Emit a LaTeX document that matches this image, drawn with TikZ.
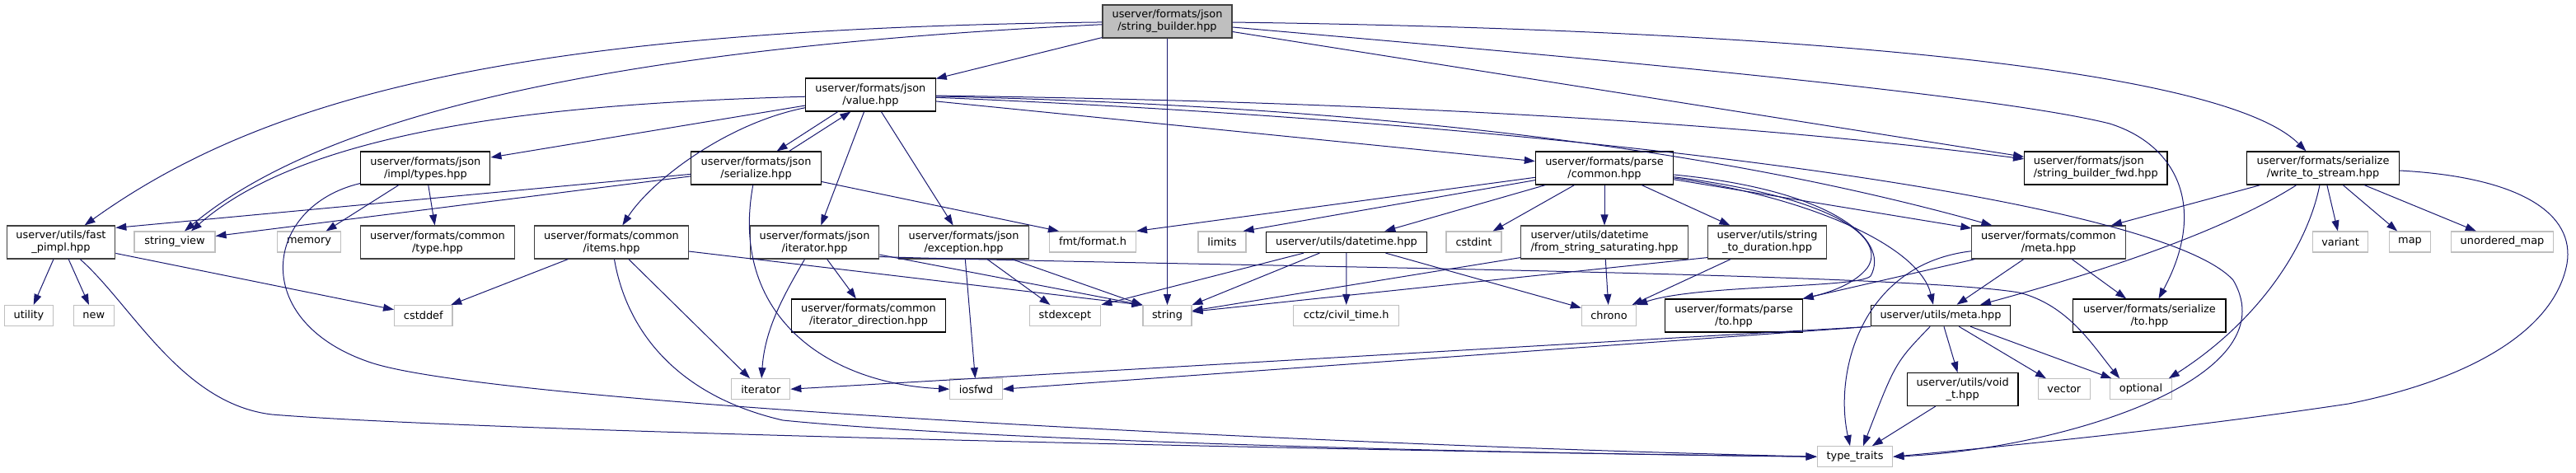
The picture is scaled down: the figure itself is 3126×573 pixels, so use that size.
\documentclass[tikz,border=0pt]{standalone}
\usepackage{fontspec}
\setmainfont{DejaVu Sans}
\usetikzlibrary{arrows.meta,calc}
\definecolor{edgeblue}{HTML}{191970}
\definecolor{extgrey}{HTML}{BFBFBF}
\definecolor{darkgrey}{HTML}{404040}
\begin{document}
\begin{tikzpicture}[x=1pt,y=-1pt,
  font=\fontsize{12.9}{15}\selectfont,
  box/.style={draw=black,line width=1.1pt,fill=white,inner sep=0pt,align=center,minimum height=40},
  gbox/.style={box,draw=darkgrey},
  ext/.style={box,draw=extgrey,minimum height=25},
  one/.style={box,minimum height=25.5},
  rootbox/.style={box,draw=darkgrey,fill=extgrey},
  lnk/.style={draw=edgeblue,line width=1pt,-{Triangle[length=13pt,width=9pt]}}]
\useasboundingbox (0,0) rectangle (3126,573);
% row 0
\node[rootbox,minimum width=157] (root) at (1416.5,26) {userver/formats/json\\/string\_builder.hpp};
% row 1
\node[box,minimum width=157.6] (value) at (1056.4,115) {userver/formats/json\\/value.hpp};
% row 2
\node[box,minimum width=157.6] (serialize) at (917.6,204) {userver/formats/json\\/serialize.hpp};
\node[box,minimum width=157] (types) at (516.4,204) {userver/formats/json\\/impl/types.hpp};
\node[box,minimum width=167.3] (pc) at (1947,204) {userver/formats/parse\\/common.hpp};
\node[box,minimum width=173.4,align=left] (sbfwd) at (2543.3,204) {userver/formats/json\\/string\_builder\_fwd.hpp};
\node[box,minimum width=185.2] (wts) at (2819,204) {userver/formats/serialize\\/write\_to\_stream.hpp};
% row 3
\node[gbox,minimum width=131.6] (fp) at (74,294) {userver/utils/fast\\\_pimpl.hpp};
\node[ext,minimum width=98] (sv) at (212,293.5) {string\_view};
\node[ext,minimum width=76.6] (memory) at (375,293.5) {memory};
\node[gbox,minimum width=186.7] (ctype) at (531,294) {userver/formats/common\\/type.hpp};
\node[gbox,minimum width=186.5] (items) at (742,294) {userver/formats/common\\/items.hpp};
\node[gbox,minimum width=156.6] (jiter) at (988.5,294) {userver/formats/json\\/iterator.hpp};
\node[gbox,minimum width=157.7] (jexc) at (1169.6,294) {userver/formats/json\\/exception.hpp};
\node[ext,minimum width=105] (fmt) at (1326,293.5) {fmt/format.h};
\node[ext,minimum width=58] (limits) at (1483,293.5) {limits};
\node[one,minimum width=195] (dt) at (1634,293.8) {userver/utils/datetime.hpp};
\node[ext,minimum width=67] (cstdint) at (1788.5,293.5) {cstdint};
\node[gbox,minimum width=202.5,align=left] (fss) at (1947,294) {userver/utils/datetime\\/from\_string\_saturating.hpp};
\node[gbox,minimum width=144] (s2d) at (2144.5,294) {userver/utils/string\\\_to\_duration.hpp};
\node[gbox,minimum width=186.2] (cmeta) at (2486,294) {userver/formats/common\\/meta.hpp};
\node[ext,minimum width=67.4] (variant) at (2840,293.5) {variant};
\node[ext,minimum width=50] (map) at (2924.5,293.5) {map};
\node[ext,minimum width=124] (umap) at (3036.5,293.5) {unordered\_map};
% row 4
\node[ext,minimum width=59.8] (utility) at (35,383) {utility};
\node[ext,minimum width=49] (new) at (113.8,383) {new};
\node[ext,minimum width=70.4] (cstddef) at (513.8,383) {cstddef};
\node[box,minimum width=186.3] (iterdir) at (1054,383) {userver/formats/common\\/iterator\_direction.hpp};
\node[ext,minimum width=86.7] (stdexcept) at (1292.4,383) {stdexcept};
\node[ext,minimum width=59] (string) at (1416.5,383.2) {string};
\node[ext,minimum width=127.7] (cctz) at (1633.7,383) {cctz/civil\_time.h};
\node[ext,minimum width=66.3] (chrono) at (1952.5,383) {chrono};
\node[box,minimum width=166.2] (pto) at (2104,383) {userver/formats/parse\\/to.hpp};
\node[one,minimum width=169] (umeta) at (2355,383) {userver/utils/meta.hpp};
\node[box,minimum width=185.2] (sto) at (2608.4,383) {userver/formats/serialize\\/to.hpp};
% row 5
\node[ext,minimum width=71] (iterator) at (923.3,472.2) {iterator};
\node[ext,minimum width=63.7] (iosfwd) at (1184.5,472.2) {iosfwd};
\node[box,minimum width=134.7] (voidt) at (2381.6,472.5) {userver/utils/void\\\_t.hpp};
\node[ext,minimum width=62.8] (vector) at (2504.8,472.3) {vector};
\node[ext,minimum width=74.5] (optional) at (2598,472.3) {optional};
% row 6
\node[ext,minimum width=91.7] (tt) at (2251,554.2) {type\_traits};

% ---- edges from root
\draw[lnk] (root) -- (value);
\draw[lnk] (root) .. controls (650,35) and (330,110) .. (fp);
\draw[lnk] (root) .. controls (700,60) and (380,150) .. ($(sv.north)+(12,0)$);
\draw[lnk] (root) -- (string);
\draw[lnk] (root) -- (sbfwd);
\draw[lnk] (root) .. controls (2100,35) and (2690,75) .. (wts);
\draw[lnk] (root) .. controls (1800,60) and (2400,110) .. (2560,150) .. controls (2640,175) and (2680,250) .. (sto);
% ---- value
\draw[lnk] ($(value.south)+(-39.6,0)$) -- ($(serialize.north)+(25,0)$);
\draw[lnk] ($(serialize.north)+(40,0)$) -- ($(value.south)+(-24,0)$);
\draw[lnk] (value) .. controls (700,125) and (380,150) .. ($(sv.north)+(20,0)$);
\draw[lnk] (value) -- (types);
\draw[lnk] (value) .. controls (880,150) and (790,220) .. (items);
\draw[lnk] (value) -- (jiter);
\draw[lnk] (value) -- (jexc);
\draw[lnk] (value) -- (pc);
\draw[lnk] (value) .. controls (1800,125) and (2200,160) .. (sbfwd);
\draw[lnk] (value) .. controls (1700,130) and (2100,185) .. ($(cmeta.north west)+(25,0)$);
\draw[lnk] (value) .. controls (1900,150) and (2620,240) .. (2710,340) .. controls (2780,460) and (2500,545) .. (tt.east);
% ---- serialize
\draw[lnk] (serialize) -- ($(fp.north east)+(0,3)$);
\draw[lnk] (serialize) -- ($(sv.east)+(0,-7)$);
\draw[lnk] (serialize) -- ($(fmt.north west)+(12,0)$);
\draw[lnk] (serialize) .. controls (885,380) and (1000,465) .. (iosfwd.west);
% ---- types
\draw[lnk] (types) -- (memory);
\draw[lnk] (types) -- (ctype);
\draw[lnk] (types) .. controls (320,250) and (300,390) .. (450,440) .. controls (600,490) and (1600,540) .. (tt.west);
% ---- fast_pimpl
\draw[lnk] (fp) -- (utility);
\draw[lnk] (fp) -- (new);
\draw[lnk] (fp) -- (cstddef);
\draw[lnk] (fp) .. controls (160,370) and (220,490) .. (330,503) .. controls (600,525) and (1700,548) .. (tt.west);
% ---- items
\draw[lnk] (items) -- (cstddef);
\draw[lnk] (items) -- (iterator);
\draw[lnk] (items) .. controls (760,400) and (820,480) .. (950,510) .. controls (1200,535) and (1800,550) .. (tt.west);
\draw[lnk] (items) -- (string.north west);
% ---- json iterator
\draw[lnk] (jiter) .. controls (950,360) and (928,400) .. (iterator);
\draw[lnk] (jiter) -- (iterdir);
\draw[lnk] (jiter) -- (string.north west);
\draw[lnk] ($(jiter.south east)+(0,-3)$) .. controls (1400,322) and (2300,330) .. (2450,355) .. controls (2510,370) and (2540,420) .. ($(optional.north west)+(12,0)$);
% ---- json exception
\draw[lnk] (jexc) -- (stdexcept);
\draw[lnk] (jexc) -- (iosfwd);
\draw[lnk] (jexc) -- (string.north west);
% ---- parse/common
\draw[lnk] (pc) -- (fmt.north east);
\draw[lnk] (pc) -- ($(limits.north east)+(-4,0)$);
\draw[lnk] (pc) -- (dt);
\draw[lnk] (pc) -- (cstdint);
\draw[lnk] (pc) -- (fss);
\draw[lnk] (pc) -- (s2d);
\draw[lnk] (pc) -- ($(cmeta.west)+(0,-17)$);
\draw[lnk] (pc) .. controls (2200,240) and (2330,300) .. ($(umeta.north west)+(76,0)$);
\draw[lnk] (pc) .. controls (2230,240) and (2290,290) .. (2266,325) .. controls (2250,345) and (2220,355) .. (pto.north east);
\draw[lnk] (pc) .. controls (2220,230) and (2295,290) .. (2270,335) .. controls (2255,350) and (2060,345) .. (chrono.north east);
% ---- datetime
\draw[lnk] (dt) -- (stdexcept.north east);
\draw[lnk] (dt) -- (string.north east);
\draw[lnk] (dt) -- (cctz);
\draw[lnk] (dt) -- (chrono);
% ---- from_string_saturating, string_to_duration
\draw[lnk] (fss) -- (chrono);
\draw[lnk] ($(fss.south west)+(0,-2)$) -- ($(string.east)+(0,-6)$);
\draw[lnk] (s2d) -- (chrono);
\draw[lnk] ($(s2d.south west)+(0,-2)$) -- ($(string.east)+(0,-5)$);
% ---- common/meta
\draw[lnk] (cmeta) -- (umeta);
\draw[lnk] (cmeta) -- (sto);
\draw[lnk] (cmeta) .. controls (2260,320) and (2225,450) .. ($(tt.north)+(-6,0)$);
\draw[lnk] (cmeta) -- (pto.north east);
% ---- write_to_stream
\draw[lnk] (wts) -- (cmeta);
\draw[lnk] (wts) .. controls (2700,280) and (2550,330) .. ($(umeta.north east)+(-37,0)$);
\draw[lnk] (wts) .. controls (2800,300) and (2740,390) .. ($(optional.north east)+(-4,0)$);
\draw[lnk] (wts) -- (variant);
\draw[lnk] (wts) -- (map);
\draw[lnk] (wts) -- (umap);
\draw[lnk] ($(wts.east)+(0,3)$) .. controls (3060,215) and (3125,260) .. (3115,320) .. controls (3100,400) and (3000,460) .. (2850,490) .. controls (2650,520) and (2450,540) .. (tt.east);
% ---- utils/meta
\draw[lnk] (umeta.south west) -- (iterator.east);
\draw[lnk] (umeta.south west) -- (iosfwd.east);
\draw[lnk] (umeta) .. controls (2300,440) .. ($(tt.north)+(10,0)$);
\draw[lnk] (umeta) -- (voidt);
\draw[lnk] (umeta) -- (vector);
\draw[lnk] (umeta) -- (optional);
\draw[lnk] (voidt) -- (tt);
\end{tikzpicture}
\end{document}
